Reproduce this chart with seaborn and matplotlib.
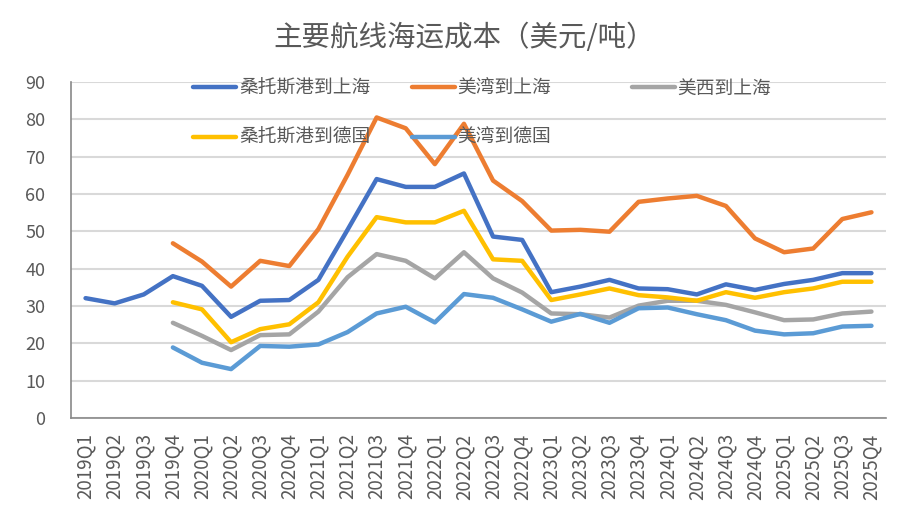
import matplotlib
matplotlib.use("Agg")
import matplotlib.pyplot as plt
from matplotlib.ticker import MultipleLocator, FixedLocator
import seaborn as sns
import numpy as np
import pandas as pd

quarters = [f"{y}Q{q}" for y in range(2019, 2026) for q in range(1, 5)]

nan = np.nan
santos_shanghai = [32.1, 30.7, 33.1, 38.0, 35.4, 27.1, 31.4, 31.6, 37.0, 50.4,
                   64.0, 61.9, 61.9, 65.5, 48.6, 47.7, 33.7, 35.2, 37.0, 34.7,
                   34.5, 33.1, 35.8, 34.3, 35.9, 37.0, 38.8, 38.8]
gulf_shanghai = [nan, nan, nan, 46.8, 41.9, 35.2, 42.1, 40.7, 50.6, 65.1,
                 80.5, 77.6, 68.0, 78.8, 63.6, 58.1, 50.2, 50.4, 49.9, 57.9,
                 58.8, 59.5, 56.8, 48.1, 44.4, 45.4, 53.3, 55.1]
west_shanghai = [nan, nan, nan, 25.5, 22.0, 18.2, 22.2, 22.4, 28.5, 37.7,
                 43.9, 42.1, 37.4, 44.4, 37.4, 33.6, 28.0, 27.8, 26.9, 30.1,
                 31.4, 31.4, 30.3, 28.3, 26.2, 26.4, 28.0, 28.5]
santos_germany = [nan, nan, nan, 31.0, 29.1, 20.3, 23.8, 25.1, 31.0, 43.2,
                  53.8, 52.4, 52.4, 55.5, 42.5, 42.1, 31.6, 33.1, 34.7, 32.9,
                  32.3, 31.4, 33.7, 32.2, 33.7, 34.7, 36.5, 36.5]
gulf_germany = [nan, nan, nan, 18.9, 14.8, 13.1, 19.3, 19.1, 19.7, 23.0,
                28.0, 29.8, 25.6, 33.2, 32.2, 29.1, 25.8, 27.9, 25.5, 29.4,
                29.6, 27.8, 26.2, 23.4, 22.4, 22.7, 24.5, 24.7]

series = {
    "桑托斯港到上海": santos_shanghai,
    "美湾到上海": gulf_shanghai,
    "美西到上海": west_shanghai,
    "桑托斯港到德国": santos_germany,
    "美湾到德国": gulf_germany,
}
colors = ["#4472C4", "#ED7D31", "#A5A5A5", "#FFC000", "#5B9BD5"]

rows = []
for name, vals in series.items():
    for i, v in enumerate(vals):
        rows.append({"idx": i, "route": name, "cost": v})
df = pd.DataFrame(rows).dropna()

sns.set_style("white")
plt.rcParams["font.family"] = ["Noto Sans CJK SC", "DejaVu Sans"]

text_color = "#595959"
fig = plt.figure(figsize=(9.11, 5.27), dpi=100)
ax = fig.add_axes([71 / 911, 1 - 418 / 527, 815 / 911, 336 / 527])

sns.lineplot(data=df, x="idx", y="cost", hue="route",
             hue_order=list(series.keys()), palette=colors,
             linewidth=3.2, sort=False, legend=False, ax=ax)

ax.set_xlim(-0.5, len(quarters) - 0.5)
ax.set_ylim(0, 90)
ax.yaxis.set_major_locator(MultipleLocator(10))
ax.set_xticks(range(len(quarters)))
ax.set_xticklabels(quarters, rotation=90, fontsize=13.5, color=text_color)
ax.xaxis.set_minor_locator(FixedLocator(np.arange(-0.5, len(quarters), 1)))
ax.tick_params(axis="x", which="major", length=0, pad=11)
ax.tick_params(axis="x", which="minor", length=7, direction="in",
               color="#898989", width=1)
ax.tick_params(axis="y", length=7, direction="in", color="#898989",
               labelsize=13, labelcolor=text_color, pad=18.5)
ax.set_xlabel("")
ax.set_ylabel("")
ax.grid(axis="y", color="#D9D9D9", linewidth=1.5)
ax.set_axisbelow(True)
for side in ["top", "right"]:
    ax.spines[side].set_visible(False)
for side in ["left", "bottom"]:
    ax.spines[side].set_color("#898989")
    ax.spines[side].set_linewidth(1.2)

fig.text(464 / 911, 1 - 38 / 527, "主要航线海运成本（美元/吨）", ha="center",
         va="center", fontsize=20.5, color=text_color)

# legend columns placed like the Excel layout
lines = ax.get_lines()
names = list(series.keys())
groups = [([0, 3], 0.15), ([1, 4], 0.418), ([2], 0.688)]
for k, (ids, xpos) in enumerate(groups):
    leg = ax.legend([lines[i] for i in ids], [names[i] for i in ids],
                    loc="upper left", bbox_to_anchor=(xpos, 1.012),
                    frameon=False, fontsize=13.5, labelcolor=text_color,
                    handlelength=2.3, handletextpad=0.15, labelspacing=1.5,
                    borderpad=0, borderaxespad=0)
    if k < len(groups) - 1:
        ax.add_artist(leg)

fig.savefig("out.png", dpi=100)
